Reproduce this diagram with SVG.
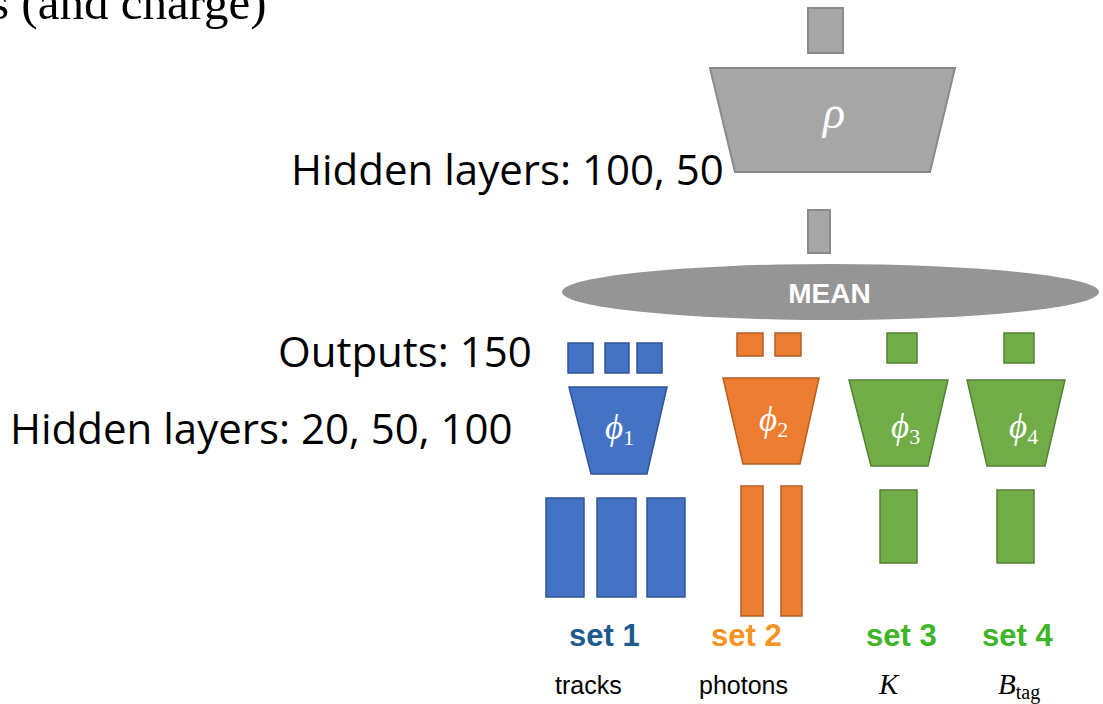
<svg xmlns="http://www.w3.org/2000/svg" width="1103" height="704" viewBox="0 0 1103 704">
  <style>
    .gray { fill: #a6a6a6; stroke: #8a8a8a; stroke-width: 2; }
    .blue { fill: #4472c4; stroke: #2f5597; stroke-width: 1.5; }
    .orange { fill: #ed7d31; stroke: #b55d22; stroke-width: 1.5; }
    .green { fill: #70ad47; stroke: #538135; stroke-width: 1.5; }
    .note { font-family: "Open Sans", "Liberation Sans", sans-serif; font-size: 42px; fill: #000; }
    .math { font-family: "Liberation Serif", "DejaVu Serif", serif; fill: #fff; }
    .mi { font-style: italic; }
    .set { font-family: "Liberation Sans", Arial, sans-serif; font-weight: bold; font-size: 31px; }
    .lbl { font-family: "Liberation Sans", Arial, sans-serif; font-size: 25px; fill: #000; }
    .lblm { font-family: "Liberation Serif", "Times New Roman", serif; fill: #000; }
  </style>
  <rect width="1103" height="704" fill="#ffffff"/>

  <!-- heading fragment at the top edge -->
  <text x="-10" y="19" font-family="Liberation Serif, Times New Roman, serif" font-size="49" fill="#000">s (and charge)</text>

  <!-- annotations -->
  <g id="annotations">
    <text class="note" x="291" y="185">Hidden layers: 100, 50</text>
    <text class="note" x="278" y="367">Outputs: 150</text>
    <text class="note" x="10" y="444">Hidden layers: 20, 50, 100</text>
  </g>

  <!-- rho network -->
  <g id="rho">
    <rect class="gray" x="808" y="8" width="35" height="45"/>
    <polygon class="gray" points="710,68 955,68 930,172 735,172"/>
    <text class="math mi" x="834" y="128" font-size="46" text-anchor="middle">ρ</text>
    <rect class="gray" x="808" y="210" width="22" height="43"/>
  </g>

  <!-- pooling -->
  <g id="mean">
    <ellipse cx="830.5" cy="292" rx="268.5" ry="28" fill="#959595"/>
    <text x="829.5" y="303" font-family="Liberation Sans, Arial, sans-serif" font-weight="bold" font-size="28" fill="#fff" text-anchor="middle">MEAN</text>
  </g>

  <!-- set 1: tracks -->
  <g id="set1">
    <rect class="blue" x="568" y="343" width="25" height="30"/>
    <rect class="blue" x="605" y="343" width="24" height="30"/>
    <rect class="blue" x="637" y="343" width="25" height="30"/>
    <polygon class="blue" points="569,387 667,387 647,474 591,474"/>
    <text class="math" x="605" y="439" font-size="35"><tspan class="mi">ϕ</tspan><tspan font-size="22" dy="6">1</tspan></text>
    <rect class="blue" x="546" y="498" width="38" height="99"/>
    <rect class="blue" x="597" y="498" width="39" height="99"/>
    <rect class="blue" x="647" y="498" width="38" height="99"/>
    <text class="set" x="569" y="646" fill="#1d5a8e">set 1</text>
    <text class="lbl" x="555" y="694">tracks</text>
  </g>

  <!-- set 2: photons -->
  <g id="set2">
    <rect class="orange" x="737" y="333" width="26" height="23"/>
    <rect class="orange" x="775" y="333" width="26" height="23"/>
    <polygon class="orange" points="723,378 819,378 800,464 743,464"/>
    <text class="math" x="759" y="431" font-size="35"><tspan class="mi">ϕ</tspan><tspan font-size="22" dy="6">2</tspan></text>
    <rect class="orange" x="741" y="486" width="22" height="130"/>
    <rect class="orange" x="781" y="486" width="21" height="130"/>
    <text class="set" x="711" y="646" fill="#f7931e">set 2</text>
    <text class="lbl" x="699" y="694">photons</text>
  </g>

  <!-- set 3: K -->
  <g id="set3">
    <rect class="green" x="887" y="333" width="30" height="30"/>
    <polygon class="green" points="849,380 948,380 928,466 871,466"/>
    <text class="math" x="891" y="438" font-size="35"><tspan class="mi">ϕ</tspan><tspan font-size="22" dy="6">3</tspan></text>
    <rect class="green" x="880" y="490" width="37" height="73"/>
    <text class="set" x="866" y="646" fill="#3db526">set 3</text>
    <text class="lblm mi" x="879" y="694" font-size="29">K</text>
  </g>

  <!-- set 4: B_tag -->
  <g id="set4">
    <rect class="green" x="1004" y="333" width="30" height="30"/>
    <polygon class="green" points="967,380 1065,380 1045,466 987,466"/>
    <text class="math" x="1009" y="438" font-size="35"><tspan class="mi">ϕ</tspan><tspan font-size="22" dy="6">4</tspan></text>
    <rect class="green" x="997" y="490" width="37" height="73"/>
    <text class="set" x="982" y="646" fill="#3db526">set 4</text>
    <text class="lblm" x="998" y="694" font-size="29"><tspan class="mi">B</tspan><tspan font-size="20" dy="5">tag</tspan></text>
  </g>
</svg>
